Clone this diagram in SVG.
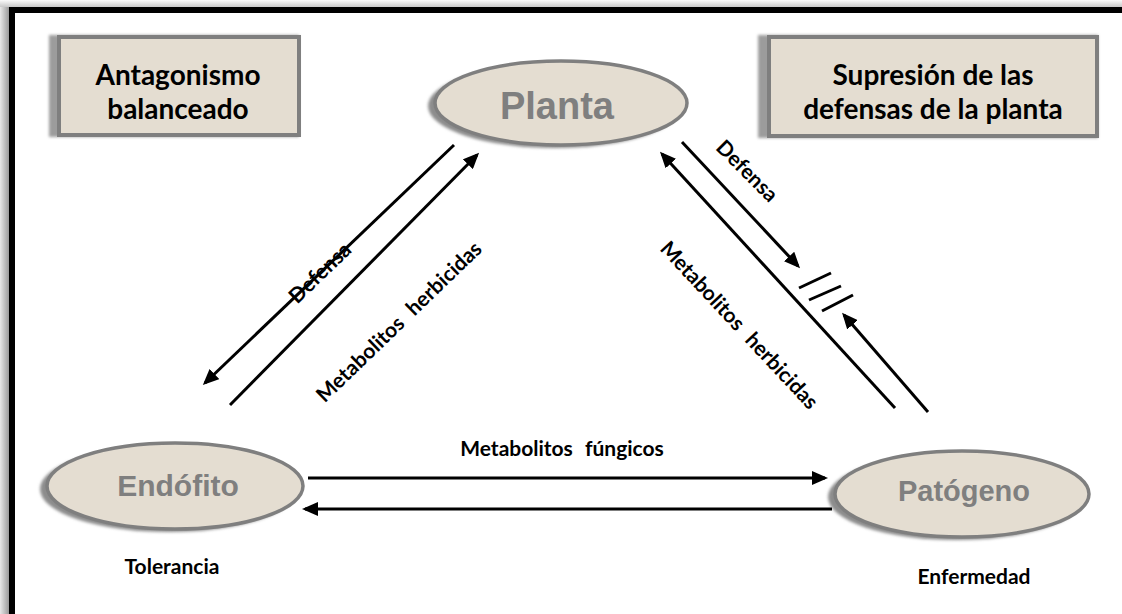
<svg xmlns="http://www.w3.org/2000/svg" width="1122" height="614" viewBox="0 0 1122 614">
<defs>
<linearGradient id="lsh" x1="0" y1="0" x2="1" y2="0"><stop offset="0" stop-color="#e8e8e8"/><stop offset="1" stop-color="#9a9a9a"/></linearGradient>
<linearGradient id="tsh" x1="0" y1="0" x2="0" y2="1"><stop offset="0" stop-color="#fafafa"/><stop offset="1" stop-color="#c8c8c8"/></linearGradient>
<filter id="blur" x="-10%" y="-10%" width="120%" height="120%"><feGaussianBlur stdDeviation="1.5"/></filter>
<marker id="ah" markerUnits="userSpaceOnUse" markerWidth="16" markerHeight="14" refX="13" refY="7" orient="auto"><path d="M0,0 L16,7 L0,14 z" fill="#000"/></marker>
</defs>
<style>
.box{fill:#e4ddd1;stroke:#7f7f7f;stroke-width:4}
.boxsh{fill:#9c9c9c}
.ell{fill:#e4ddd1;stroke:#7f7f7f;stroke-width:3.5}
.ellsh{fill:#8c8c8c}
.bt{font-family:Lato,"Open Sans",sans-serif;font-weight:bold;font-size:28px;fill:#000;text-anchor:middle}
.et{font-family:"Liberation Sans",Arial,sans-serif;font-weight:bold;fill:#7f7f7f;text-anchor:middle}
.lb{font-family:Lato,"Open Sans",sans-serif;font-weight:bold;font-size:21px;fill:#000;text-anchor:middle}
.ar{stroke:#000;stroke-width:3;fill:none}
</style>
<rect width="1122" height="614" fill="#fff"/>
<g id="frame">
<rect x="0" y="0" width="1122" height="7" fill="url(#tsh)"/>
<rect x="0" y="7" width="9" height="607" fill="url(#lsh)"/>
<rect x="9" y="7" width="1113" height="6" fill="#000"/>
<rect x="9" y="7" width="6" height="607" fill="#000"/>
</g>
<g id="box-antagonismo">
<rect class="boxsh" x="49" y="35" width="250" height="102" filter="url(#blur)"/>
<rect class="box" x="59" y="37" width="240" height="98"/>
<text class="bt" x="178" y="85">Antagonismo</text>
<text class="bt" x="178" y="119">balanceado</text>
</g>
<g id="box-supresion">
<rect class="boxsh" x="758" y="35" width="340" height="103" filter="url(#blur)"/>
<rect class="box" x="769" y="37" width="328" height="99"/>
<text class="bt" x="933" y="85">Supresión de las</text>
<text class="bt" x="933" y="119">defensas de la planta</text>
</g>
<g id="node-planta">
<ellipse class="ellsh" cx="555" cy="106" rx="127" ry="42" filter="url(#blur)"/>
<ellipse class="ell" cx="561" cy="103" rx="126" ry="42"/>
<text class="et" x="557" y="119" font-size="38">Planta</text>
</g>
<g id="node-endofito">
<ellipse class="ellsh" cx="169" cy="489" rx="129" ry="43" filter="url(#blur)"/>
<ellipse class="ell" cx="175" cy="486" rx="128" ry="43"/>
<text class="et" x="178" y="496" font-size="30">Endófito</text>
</g>
<g id="node-patogeno">
<ellipse class="ellsh" cx="956" cy="497" rx="128" ry="43" filter="url(#blur)"/>
<ellipse class="ell" cx="962" cy="494" rx="127" ry="43"/>
<text class="et" x="964" y="501" font-size="29">Patógeno</text>
</g>
<g id="connectors">
<line class="ar" x1="454" y1="145" x2="205" y2="383" marker-end="url(#ah)"/>
<line class="ar" x1="230" y1="405" x2="477" y2="155" marker-end="url(#ah)"/>
<line class="ar" x1="682" y1="142" x2="798" y2="266" marker-end="url(#ah)"/>
<line class="ar" x1="895" y1="408" x2="662" y2="154" marker-end="url(#ah)"/>
<line class="ar" x1="928" y1="412" x2="844" y2="315" marker-end="url(#ah)"/>
<line class="ar" x1="308" y1="478" x2="825" y2="478" marker-end="url(#ah)"/>
<line class="ar" x1="832" y1="509" x2="305" y2="509" marker-end="url(#ah)"/>
<line class="ar" x1="799" y1="288" x2="831" y2="273"/>
<line class="ar" x1="809" y1="300" x2="841" y2="286"/>
<line class="ar" x1="822" y1="311" x2="853" y2="295"/>
</g>
<g id="labels">
<text class="lb" transform="translate(325,278) rotate(-44)">Defensa</text>
<text class="lb" transform="translate(404,327) rotate(-44)" word-spacing="7">Metabolitos herbicidas</text>
<text class="lb" transform="translate(742,176) rotate(45)">Defensa</text>
<text class="lb" transform="translate(734,330) rotate(47)" word-spacing="7">Metabolitos herbicidas</text>
<text class="lb" x="562" y="456" word-spacing="7">Metabolitos fúngicos</text>
<text class="lb" x="172" y="574">Tolerancia</text>
<text class="lb" x="974" y="584">Enfermedad</text>
</g>
</svg>
